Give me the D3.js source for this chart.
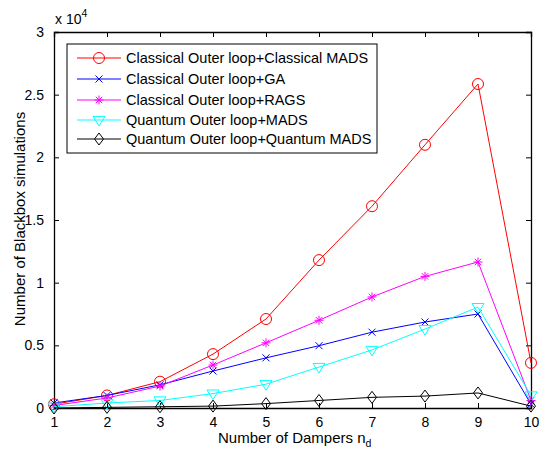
<!DOCTYPE html>
<html><head><meta charset="utf-8">
<script src="https://cdn.jsdelivr.net/npm/d3@7"></script>
<style>body{margin:0;background:#fff;} text{font-family:Arial,"Liberation Sans",Helvetica,sans-serif;}</style>
</head><body><svg id="c" width="541" height="450"></svg>
<script>
const xs = [1,2,3,4,5,6,7,8,9,10];
const classicalMADS = [300,1000,2100,4300,7100,11800,16100,21000,25850,3600];
const classicalGA = [400,1000,1850,2950,4000,4970,6050,6860,7500,300];
const classicalRAGS = [200,800,1750,3430,5200,7000,8860,10500,11650,600];
const quantumMADS = [100,400,600,1150,1900,3270,4630,6300,8050,1000];
const quantumQMADS = [0,50,100,150,350,600,850,950,1200,150];
const names = ["Classical Outer loop+Classical MADS","Classical Outer loop+GA","Classical Outer loop+RAGS","Quantum Outer loop+MADS","Quantum Outer loop+Quantum MADS"];
const colors = ["#ff0000","#0000ff","#ff00ff","#00ffff","#000000"];
const markers = ["circle","x","star","tri","diamond"];
const series = [classicalMADS,classicalGA,classicalRAGS,quantumMADS,quantumQMADS];
const yTicks = [0,5000,10000,15000,20000,25000,30000];
const yTickLabels = ["0","0.5","1","1.5","2","2.5","3"];

const svg = d3.select("#c");
const L=54,R=531,T=32,B=408;
const x = d3.scaleLinear().domain([1,10]).range([L,R]);
const y = d3.scaleLinear().domain([0,30000]).range([B,T]);

function drawMarker(g,type,cx,cy,col){
  if(type==="circle") g.append("circle").attr("cx",cx).attr("cy",cy).attr("r",5.5).attr("fill","none").attr("stroke",col);
  else if(type==="x"){ const s=3.5; g.append("path").attr("d",`M${cx-s},${cy-s}L${cx+s},${cy+s}M${cx-s},${cy+s}L${cx+s},${cy-s}`).attr("stroke",col).attr("fill","none");}
  else if(type==="star"){ const s=4.5,d=3.2; g.append("path").attr("d",`M${cx-s},${cy}L${cx+s},${cy}M${cx},${cy-s}L${cx},${cy+s}M${cx-d},${cy-d}L${cx+d},${cy+d}M${cx-d},${cy+d}L${cx+d},${cy-d}`).attr("stroke",col).attr("fill","none");}
  else if(type==="tri"){ const s=6; g.append("path").attr("d",`M${cx-s},${cy-s*0.6}L${cx+s},${cy-s*0.6}L${cx},${cy+s}Z`).attr("stroke",col).attr("fill","none");}
  else if(type==="diamond"){ const s=6; g.append("path").attr("d",`M${cx},${cy-s}L${cx+s*0.75},${cy}L${cx},${cy+s}L${cx-s*0.75},${cy}Z`).attr("stroke",col).attr("fill","none");}
}

// axes box
const gx = svg.append("g").attr("transform",`translate(0,${B})`).call(d3.axisBottom(x).tickValues(xs).tickSize(-5).tickPadding(9).tickFormat(d3.format("d")));
const gxt = svg.append("g").attr("transform",`translate(0,${T})`).call(d3.axisTop(x).tickValues(xs).tickSize(-5).tickFormat(""));
const gy = svg.append("g").attr("transform",`translate(${L},0)`).call(d3.axisLeft(y).tickValues(yTicks).tickSize(-5).tickPadding(10).tickFormat((d,i)=>yTickLabels[i]));
const gyr = svg.append("g").attr("transform",`translate(${R},0)`).call(d3.axisRight(y).tickValues(yTicks).tickSize(-5).tickFormat(""));
[gx,gxt,gy,gyr].forEach(g=>{g.select(".domain").attr("stroke","#000").attr("stroke-width",1.3);g.selectAll(".tick line").attr("stroke","#000");g.selectAll("text").attr("font-size",14).attr("fill","#000").attr("font-family","Arial, 'Liberation Sans', sans-serif");});

// series
const line = d3.line().x((d,i)=>x(xs[i])).y(d=>y(d));
series.forEach((s,k)=>{
  const g = svg.append("g");
  g.append("path").datum(s).attr("d",line).attr("fill","none").attr("stroke",colors[k]).attr("stroke-width",1);
  s.forEach((v,i)=>drawMarker(g,markers[k],x(xs[i]),y(v),colors[k]));
});

// exponent
const ex = svg.append("text").attr("x",55).attr("y",24).attr("font-size",14);
ex.append("tspan").text("x 10");
ex.append("tspan").attr("dy",-7).attr("font-size",10.5).text("4");

// axis labels
const xl = svg.append("text").attr("x",218).attr("y",443).attr("font-size",15);
xl.append("tspan").text("Number of Dampers n");
xl.append("tspan").attr("dy",4).attr("font-size",10.5).text("d");
svg.append("text").attr("transform","translate(25,219) rotate(-90)").attr("text-anchor","middle").attr("font-size",15).text("Number of Blackbox simulations");

// legend
const lg = svg.append("g");
lg.append("rect").attr("x",67).attr("y",44).attr("width",310).attr("height",109).attr("fill","#fff").attr("stroke","#000");
const rowsY=[58,79,100,120,139];
names.forEach((n,k)=>{
  lg.append("line").attr("x1",77).attr("x2",121).attr("y1",rowsY[k]).attr("y2",rowsY[k]).attr("stroke",colors[k]);
  drawMarker(lg,markers[k],99,rowsY[k],colors[k]);
  lg.append("text").attr("x",126).attr("y",rowsY[k]+5).attr("font-size",14.5).text(n);
});
</script></body></html>
